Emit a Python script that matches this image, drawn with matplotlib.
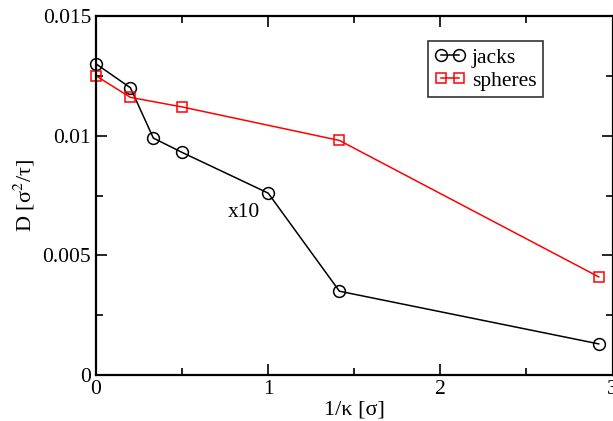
import matplotlib
matplotlib.use("Agg")
import matplotlib.pyplot as plt
from matplotlib.ticker import MultipleLocator

plt.rcParams['font.family'] = ['Liberation Serif', 'DejaVu Serif']
plt.rcParams['mathtext.fontset'] = 'stix'

# data
jacks_x = [0.0, 0.2, 0.333, 0.5, 1.0, 1.414, 2.92]
jacks_y = [0.0130, 0.0120, 0.0099, 0.0093, 0.0076, 0.0035, 0.0013]
spheres_x = [0.0, 0.2, 0.5, 1.414, 2.92]
spheres_y = [0.0125, 0.0116, 0.0112, 0.0098, 0.0041]

fig = plt.figure(figsize=(6.13, 4.21), dpi=100)
ax = fig.add_axes([96 / 613, 46 / 421, 516.5 / 613, 359 / 421])

ax.plot(jacks_x, jacks_y, color='black', lw=1.1, marker='o', ms=8.5,
        mfc='none', mec='black', mew=1.1, label='jacks', clip_on=False)
ax.plot(spheres_x, spheres_y, color='red', lw=1.1, marker='s', ms=7,
        mfc='none', mec='red', mew=1.1, label='spheres', clip_on=False)

ax.text(0.765, 0.0066, 'x10', fontsize=15.5, va='baseline')

ax.set_xlim(0, 3)
ax.set_ylim(0, 0.015)
ax.xaxis.set_major_locator(MultipleLocator(1))
ax.xaxis.set_minor_locator(MultipleLocator(0.5))
ax.yaxis.set_minor_locator(MultipleLocator(0.0025))
ax.set_yticks([0, 0.005, 0.01, 0.015])
ax.set_yticklabels(['0', '0.005', '0.01', '0.015'])
ax.tick_params(which='both', direction='in', top=True, right=True, labelsize=15.5, width=1.2)
ax.tick_params(which='major', length=8)
ax.tick_params(which='minor', length=5)
for s in ax.spines.values():
    s.set_linewidth(1.6)

ax.set_xlabel('1/κ [σ]', fontsize=16, labelpad=1)
ax.set_ylabel(r'D [σ$^2$/τ]', fontsize=16, labelpad=4)

leg = ax.legend(loc='upper left', bbox_to_anchor=(0.642, 0.93), fontsize=15.5,
                frameon=True, fancybox=False, edgecolor='black', numpoints=2,
                handlelength=1.45, handletextpad=0.3, borderpad=0.3,
                labelspacing=0.15, borderaxespad=0)
leg.get_frame().set_linewidth(1.2)

fig.savefig('out.png', dpi=100)
